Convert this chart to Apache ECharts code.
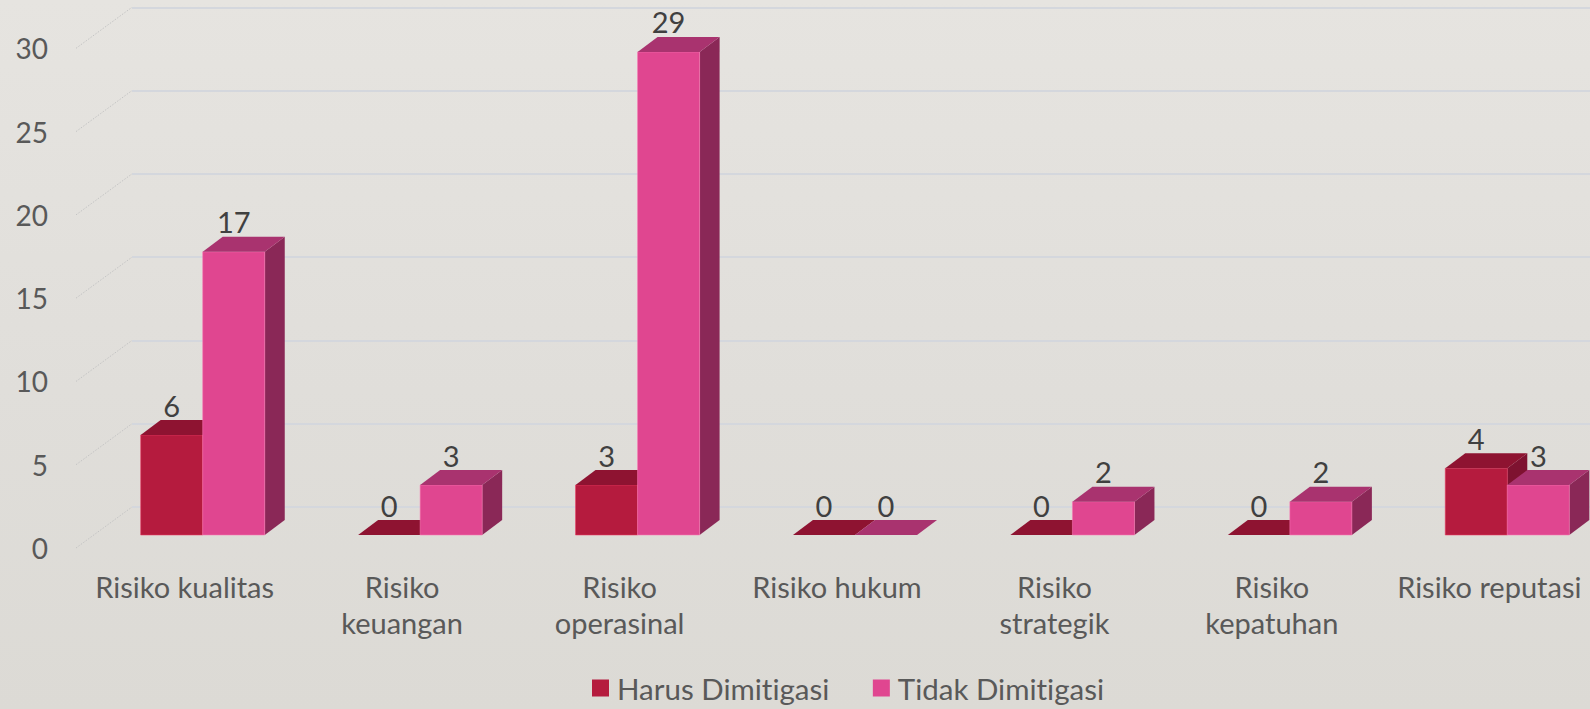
<!DOCTYPE html>
<html>
<head>
<meta charset="utf-8">
<script src="https://cdn.jsdelivr.net/npm/echarts@6/dist/echarts.min.js"></script>
<style>
  html, body { margin: 0; padding: 0; }
  body {
    width: 1590px; height: 709px; overflow: hidden;
    background: linear-gradient(to bottom, #e6e4e0 0%, #e0deda 55%, #dcdad5 100%);
  }
  #chart { width: 1590px; height: 709px; }
  #chart text { font-variant-ligatures: none; font-feature-settings: "liga" 0, "clig" 0; }
</style>
</head>
<body>
<div id="chart"></div>
<script>
// Risk categories (axis labels, line breaks as shown under the bars)
const categories = [
  'Risiko kualitas',
  'Risiko\nkeuangan',
  'Risiko\noperasinal',
  'Risiko hukum',
  'Risiko\nstrategik',
  'Risiko\nkepatuhan',
  'Risiko reputasi'
];
const seriesNames = ['Harus Dimitigasi', 'Tidak Dimitigasi'];
const harusDimitigasi = [6, 0, 3, 0, 0, 0, 4];
const tidakDimitigasi = [17, 3, 29, 0, 2, 2, 3];
const valueTicks = [0, 5, 10, 15, 20, 25, 30];

// 3D look: wall depth, bar offset inside the depth, bar depth
const WALL = [56, -41];
const BAR_OFF = [18, -13];
const BAR_DEPTH = [20, -15];
const BAR_FRAC = 0.2853;

const palettes = [
  { front: '#b51b3e', top: '#8e1331', side: '#7e1230', edge: 'rgba(235,60,100,0.55)' },
  { front: '#e04690', top: '#a9336f', side: '#8a2857', edge: 'rgba(250,120,180,0.55)' }
];

function barRenderer(side) {
  const pal = palettes[side];
  return function (params, api) {
    const ci = api.value(0);
    const v = api.value(1);
    const base = api.coord([ci, 0]);
    const topP = api.coord([ci, v]);
    const band = api.size([1, 0])[0];
    const bw = band * BAR_FRAC;
    const x0 = base[0] + BAR_OFF[0] + (side === 0 ? -bw : 0);
    const x1 = x0 + bw;
    const yb = base[1] + BAR_OFF[1];
    const yt = topP[1] + BAR_OFF[1];
    const dx = BAR_DEPTH[0], dy = BAR_DEPTH[1];
    const children = [];
    if (yb - yt > 0.5) {
      children.push({
        type: 'polygon',
        shape: { points: [[x1, yt], [x1 + dx, yt + dy], [x1 + dx, yb + dy], [x1, yb]] },
        style: { fill: pal.side }
      });
      children.push({
        type: 'rect',
        shape: { x: x0, y: yt, width: bw, height: yb - yt },
        style: { fill: pal.front, stroke: pal.edge, lineWidth: 1 }
      });
    }
    children.push({
      type: 'polygon',
      shape: { points: [[x0, yt], [x1, yt], [x1 + dx, yt + dy], [x0 + dx, yt + dy]] },
      style: { fill: pal.top }
    });
    children.push({
      type: 'text',
      style: {
        x: x0 + bw / 2,
        y: yt - 30,
        text: String(v),
        align: 'center',
        verticalAlign: 'middle',
        fill: '#404040',
        fontSize: 29,
        fontFamily: 'Lato'
      }
    });
    return { type: 'group', children: children };
  };
}

// Dotted lines on the left wall, one per value tick
function wallRenderer(params, api) {
  const p = api.coord([0, api.value(1)]);
  const x = params.coordSys.x;
  return {
    type: 'line',
    shape: { x1: x, y1: p[1], x2: x + WALL[0], y2: p[1] + WALL[1] },
    style: { stroke: '#c4c4c4', lineWidth: 1, lineDash: [1.5, 1.5] }
  };
}

const FRONT = { left: 76, top: 48.3, bottom: 161, right: -8 };

const chart = echarts.init(document.getElementById('chart'), null, { renderer: 'svg' });
chart.setOption({
  backgroundColor: 'transparent',
  animation: false,
  textStyle: { fontFamily: 'Lato' },
  grid: [
    { left: FRONT.left, top: FRONT.top, bottom: FRONT.bottom, right: FRONT.right, outerBoundsMode: 'none', containLabel: false },
    { left: FRONT.left + WALL[0], top: FRONT.top + WALL[1], bottom: FRONT.bottom - WALL[1], right: FRONT.right - WALL[0], outerBoundsMode: 'none', containLabel: false }
  ],
  xAxis: [
    {
      type: 'category', gridIndex: 0, data: categories,
      axisLine: { show: false }, axisTick: { show: false },
      splitLine: { show: false },
      axisLabel: {
        interval: 0, margin: 20, color: '#595959', fontSize: 29, lineHeight: 36,
        fontFamily: 'Lato', verticalAlign: 'top'
      }
    },
    {
      type: 'category', gridIndex: 1, data: categories, show: false
    }
  ],
  yAxis: [
    {
      type: 'value', gridIndex: 0, min: 0, max: 30, interval: 5,
      axisLine: { show: false }, axisTick: { show: false },
      splitLine: { show: false },
      axisLabel: { margin: 28, color: '#595959', fontSize: 28, fontFamily: 'Lato' }
    },
    {
      type: 'value', gridIndex: 1, min: 0, max: 30, interval: 5,
      axisLine: { show: false }, axisTick: { show: false },
      axisLabel: { show: false },
      splitLine: { show: true, lineStyle: { color: '#d4d7dd', width: 2 } }
    }
  ],
  legend: {
    data: seriesNames,
    top: 673,
    left: 592,
    padding: 0,
    icon: 'rect',
    itemWidth: 17,
    itemHeight: 17,
    itemGap: 43,
    textStyle: { color: '#595959', fontSize: 29.5, lineHeight: 30, fontFamily: 'Lato', padding: [0, 0, 0, 3] }
  },
  series: [
    {
      type: 'custom', name: 'wall', xAxisIndex: 0, yAxisIndex: 0,
      data: valueTicks.map(function (t) { return [0, t]; }),
      encode: { x: 0, y: 1 }, renderItem: wallRenderer, silent: true, z: 1
    },
    {
      type: 'custom', name: seriesNames[0], xAxisIndex: 0, yAxisIndex: 0,
      itemStyle: { color: '#b51b3e' },
      data: harusDimitigasi.map(function (v, i) { return [i, v]; }),
      encode: { x: 0, y: 1 }, renderItem: barRenderer(0), z: 3
    },
    {
      type: 'custom', name: seriesNames[1], xAxisIndex: 0, yAxisIndex: 0,
      itemStyle: { color: '#e04690' },
      data: tidakDimitigasi.map(function (v, i) { return [i, v]; }),
      encode: { x: 0, y: 1 }, renderItem: barRenderer(1), z: 4
    }
  ]
});
</script>
</body>
</html>
